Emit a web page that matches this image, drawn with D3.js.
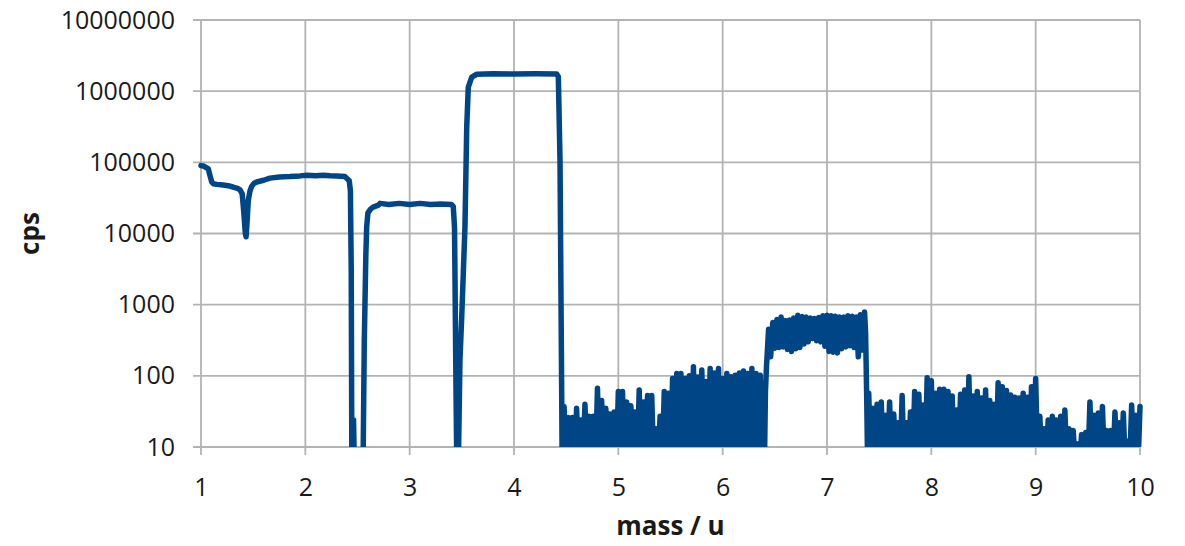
<!DOCTYPE html>
<html>
<head>
<meta charset="utf-8">
<script src="https://cdn.jsdelivr.net/npm/d3@7"></script>
<style>
  html, body { margin: 0; padding: 0; background: #fff; overflow: hidden; }
  svg { display: block; }
  text { font-family: "Open Sans", sans-serif; fill: #1a1a1a; }
</style>
</head>
<body>
<div id="chart"></div>
<script>
const width = 1185;
const height = 546;

// axis ticks
const xTicks = [1, 2, 3, 4, 5, 6, 7, 8, 9, 10];
const yTicks = [10, 100, 1000, 10000, 100000, 1000000, 10000000];

// smooth part of the scan, mass / u and cps
const peakMass = [1.000, 1.030, 1.070, 1.090, 1.103, 1.118, 1.150, 1.211, 1.260, 1.307, 1.350, 1.374,
  1.395, 1.410, 1.425, 1.432, 1.441, 1.453, 1.470, 1.486, 1.510, 1.534, 1.600, 1.661, 1.750, 1.853,
  1.950, 2.013, 2.100, 2.170, 2.236, 2.300, 2.380, 2.421, 2.432, 2.440, 2.446, 2.455, 2.462, 2.470,
  2.553, 2.565, 2.580, 2.588, 2.600, 2.625, 2.650, 2.700, 2.716, 2.800, 2.900, 3.000, 3.100, 3.200,
  3.300, 3.400, 3.418, 3.430, 3.445, 3.452, 3.466, 3.482, 3.499, 3.530, 3.547, 3.562, 3.595, 3.643,
  3.800, 4.000, 4.200, 4.409, 4.425, 4.441, 4.457, 4.462];
const peakCps = [90000, 88000, 81000, 62000, 53000, 50000, 49000, 48000, 47000, 45000, 43000, 41000,
  36000, 20000, 10000, 9000, 14000, 29000, 40000, 46000, 51000, 53000, 56000, 60000, 62000, 63000,
  64500, 66000, 65000, 66000, 65000, 64500, 63000, 55000, 40000, 3000, 5, 5, 24, 5,
  5, 300, 5000, 12400, 19500, 22000, 23500, 25000, 26500, 25500, 26500, 25500, 26500, 25500,
  26000, 25500, 24000, 12000, 50, 5, 5, 167, 680, 12400, 316000, 1140000, 1580000, 1730000,
  1750000, 1740000, 1750000, 1740000, 1600000, 107000, 57, 5];

// noise between 4.46 and 6.41 u: [mass, cps], values below 10 sit under the axis
const noiseLow = [[4.48,37],[4.50,5],[4.52,26],[4.54,5],[4.56,26],[4.58,5],[4.60,35],[4.62,5],[4.64,24],[4.66,5],
  [4.68,40],[4.70,5],[4.72,27],[4.74,5],[4.76,27],[4.78,5],[4.80,67],[4.82,5],[4.84,45],[4.86,5],
  [4.88,35],[4.90,5],[4.92,29],[4.94,5],[4.96,31],[4.98,5],[5.00,60],[5.02,5],[5.04,60],[5.06,5],
  [5.08,43],[5.10,5],[5.12,38],[5.14,5],[5.16,31],[5.18,5],[5.20,63],[5.22,5],[5.24,43],[5.26,5],
  [5.28,53],[5.30,5],[5.32,53],[5.34,5],[5.36,18],[5.38,5],[5.40,27],[5.42,5],[5.44,60],[5.46,5],
  [5.48,57],[5.50,5],[5.52,92],[5.54,5],[5.56,108],[5.58,5],[5.60,108],[5.62,5],[5.64,92],[5.66,5],
  [5.68,100],[5.70,5],[5.72,134],[5.74,5],[5.76,96],[5.78,5],[5.80,121],[5.82,5],[5.84,83],[5.86,5],
  [5.88,127],[5.90,5],[5.92,110],[5.94,5],[5.96,127],[5.98,5],[6.00,92],[6.02,5],[6.04,108],[6.06,5],
  [6.08,97],[6.10,5],[6.12,102],[6.14,5],[6.16,110],[6.18,5],[6.20,117],[6.22,5],[6.24,108],[6.26,5],
  [6.28,127],[6.30,5],[6.32,108],[6.34,5],[6.36,102],[6.38,5],[6.40,5],[6.41,60]];

// the band between 6.42 and 7.38 u
const band = [[6.42,135],[6.44,450],[6.46,185],[6.48,560],[6.50,245],[6.52,620],[6.54,250],[6.56,670],
  [6.58,255],[6.60,600],[6.62,235],[6.64,610],[6.66,220],[6.68,650],[6.70,240],[6.72,710],[6.74,250],
  [6.76,680],[6.78,280],[6.80,670],[6.82,300],[6.84,650],[6.86,335],[6.88,640],[6.90,310],[6.92,660],
  [6.94,300],[6.96,700],[6.98,260],[7.00,710],[7.02,220],[7.04,700],[7.06,215],[7.08,690],[7.10,210],
  [7.12,670],[7.14,240],[7.16,670],[7.18,255],[7.20,700],[7.22,265],[7.24,690],[7.26,250],[7.28,670],
  [7.30,185],[7.32,720],[7.34,230],[7.36,790],[7.37,400],[7.38,57],[7.39,5]];

// noise between 7.40 and 10 u
const noiseHigh = [[7.40,57],[7.42,5],[7.44,35],[7.46,5],[7.48,40],[7.50,5],[7.52,43],[7.54,5],[7.56,28],[7.58,5],
  [7.60,43],[7.62,5],[7.64,29],[7.66,5],[7.68,22],[7.70,5],[7.72,53],[7.74,5],[7.76,22],[7.78,5],
  [7.80,31],[7.82,5],[7.84,60],[7.86,5],[7.88,55],[7.90,5],[7.92,39],[7.94,5],[7.96,94],[7.98,5],
  [8.00,85],[8.02,5],[8.04,57],[8.06,5],[8.08,65],[8.10,5],[8.12,65],[8.14,5],[8.16,60],[8.18,5],
  [8.20,52],[8.22,5],[8.24,33],[8.26,5],[8.28,55],[8.30,5],[8.32,63],[8.34,5],[8.36,97],[8.38,5],
  [8.40,52],[8.42,5],[8.44,60],[8.46,5],[8.48,49],[8.50,5],[8.52,63],[8.54,5],[8.56,45],[8.58,5],
  [8.60,40],[8.62,5],[8.64,80],[8.66,5],[8.68,70],[8.70,5],[8.72,62],[8.74,5],[8.76,54],[8.78,5],
  [8.80,50],[8.82,5],[8.84,49],[8.86,5],[8.88,57],[8.90,5],[8.92,50],[8.94,5],[8.96,70],[8.98,5],
  [9.00,92],[9.02,5],[9.04,27],[9.06,5],[9.08,18],[9.10,5],[9.12,24],[9.14,5],[9.16,27],[9.18,5],
  [9.20,24],[9.22,5],[9.24,27],[9.26,5],[9.28,33],[9.30,5],[9.32,18],[9.34,5],[9.36,17],[9.38,5],
  [9.40,11],[9.42,5],[9.44,15],[9.46,5],[9.48,16],[9.50,5],[9.52,43],[9.54,5],[9.56,28],[9.58,5],
  [9.60,30],[9.62,5],[9.64,37],[9.66,5],[9.68,17],[9.70,5],[9.72,17],[9.74,5],[9.76,31],[9.78,5],
  [9.80,22],[9.82,5],[9.84,30],[9.86,5],[9.88,12],[9.90,5],[9.92,39],[9.94,5],[9.96,28],[9.98,5],
  [10.00,37]];

const margin = { top: 20, right: 45, bottom: 99, left: 201 };
const innerWidth = width - margin.left - margin.right;
const innerHeight = height - margin.top - margin.bottom;

const data = peakMass.map((m, i) => [m, peakCps[i]])
  .concat(noiseLow, band, noiseHigh);

const xScale = d3.scaleLinear().domain([1, 10]).range([0, innerWidth]);
const yScale = d3.scaleLog().domain([10, 1e7]).range([innerHeight, 0]);

const svg = d3.select("#chart")
  .append("svg")
  .attr("width", width)
  .attr("height", height);

const innerChart = svg.append("g")
  .attr("transform", `translate(${margin.left}, ${margin.top})`);

// Gridlines (they run a little past the plot, like tick marks)
innerChart.append("g")
  .selectAll("line")
  .data(yTicks)
  .join("line")
  .attr("x1", -8)
  .attr("x2", innerWidth)
  .attr("y1", d => yScale(d))
  .attr("y2", d => yScale(d))
  .attr("stroke", "#b3b3b3")
  .attr("stroke-width", 1.8);

innerChart.append("g")
  .selectAll("line")
  .data(xTicks)
  .join("line")
  .attr("x1", d => xScale(d))
  .attr("x2", d => xScale(d))
  .attr("y1", 0)
  .attr("y2", innerHeight + 8)
  .attr("stroke", "#b3b3b3")
  .attr("stroke-width", 1.8);

// Axes, labels only
const yAxis = d3.axisLeft(yScale)
  .tickValues(yTicks)
  .tickFormat(d3.format("d"))
  .tickSize(0)
  .tickPadding(26);

const xAxis = d3.axisBottom(xScale)
  .tickValues(xTicks)
  .tickFormat(d3.format("d"))
  .tickSize(0)
  .tickPadding(31);

innerChart.append("g").call(yAxis)
  .call(g => g.select(".domain").remove())
  .selectAll("text")
  .style("font-size", "25px")
  .style("font-family", "'Open Sans', sans-serif")
  .attr("fill", "#1a1a1a");

innerChart.append("g")
  .attr("transform", `translate(0, ${innerHeight})`)
  .call(xAxis)
  .call(g => g.select(".domain").remove())
  .selectAll("text")
  .style("font-size", "25px")
  .style("font-family", "'Open Sans', sans-serif")
  .attr("fill", "#1a1a1a");

// Spectrum line
svg.append("clipPath")
  .attr("id", "plot-clip")
  .append("rect")
  .attr("x", -6)
  .attr("y", -6)
  .attr("width", innerWidth + 12)
  .attr("height", innerHeight + 6);

const line = d3.line()
  .x(d => xScale(d[0]))
  .y(d => yScale(d[1]));

innerChart.append("path")
  .datum(data)
  .attr("clip-path", "url(#plot-clip)")
  .attr("d", line)
  .attr("fill", "none")
  .attr("stroke", "#004586")
  .attr("stroke-width", 5.5)
  .attr("stroke-linejoin", "round")
  .attr("stroke-linecap", "round");

// Axis titles
svg.append("text")
  .attr("x", margin.left + innerWidth / 2)
  .attr("y", 535)
  .attr("text-anchor", "middle")
  .style("font-size", "26px")
  .style("font-weight", "bold")
  .text("mass / u");

svg.append("text")
  .attr("transform", `translate(39, ${margin.top + innerHeight / 2}) rotate(-90)`)
  .attr("text-anchor", "middle")
  .style("font-size", "26px")
  .style("font-weight", "bold")
  .text("cps");
</script>
</body>
</html>
